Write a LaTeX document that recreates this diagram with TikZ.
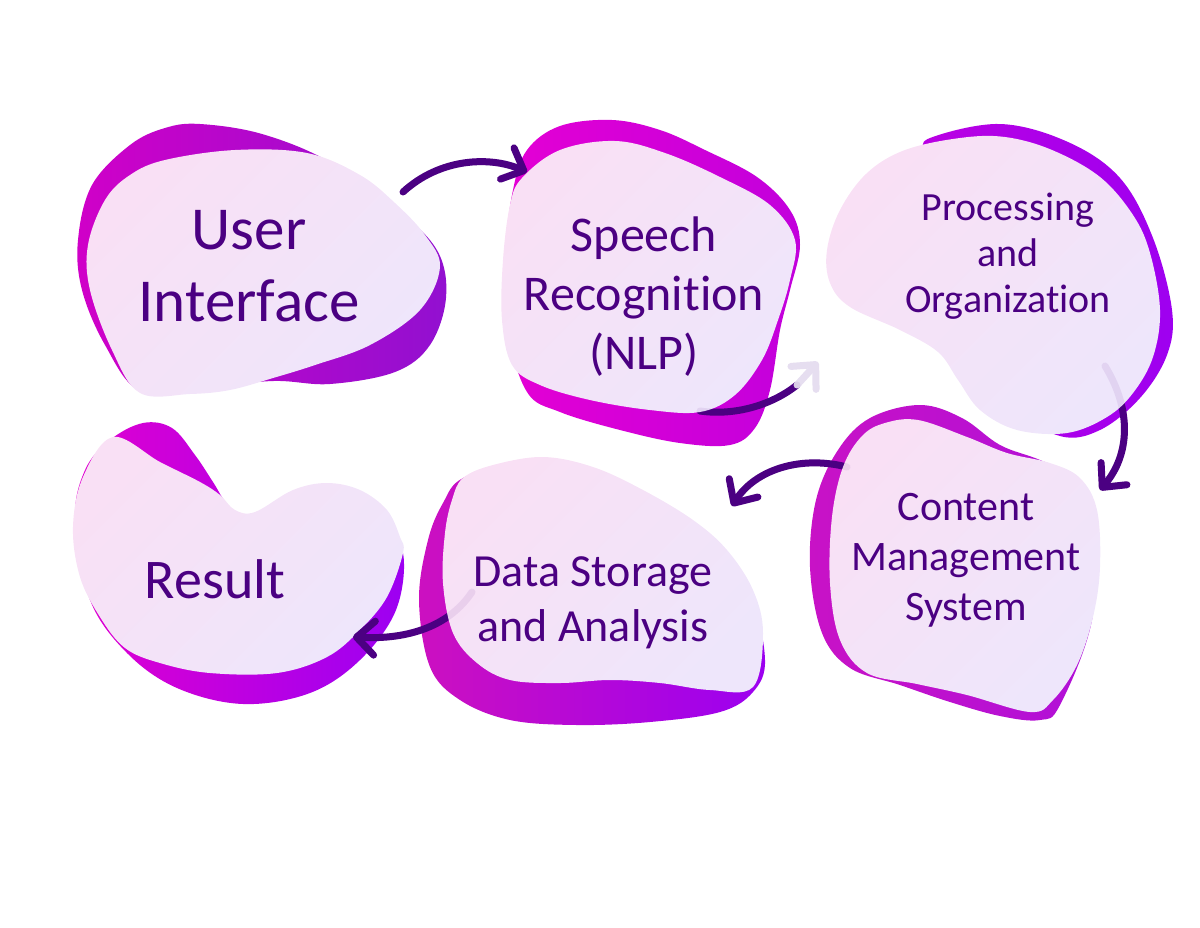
\documentclass[tikz,border=0pt]{standalone}
\usepackage{fontspec}
\setmainfont[Ligatures={NoCommon,NoRequired,NoContextual}]{Carlito}
\usetikzlibrary{arrows.meta}

\definecolor{ink}{HTML}{4B0082}
\definecolor{paleA}{HTML}{F9E0F5}
\definecolor{paleB}{HTML}{EEE6FB}
\definecolor{fadeline}{HTML}{E6DEF0}
\definecolor{uiL}{HTML}{D000C8}\definecolor{uiR}{HTML}{9210D0}
\definecolor{spL}{HTML}{E400D4}\definecolor{spR}{HTML}{C200DC}
\definecolor{prL}{HTML}{C000E0}\definecolor{prR}{HTML}{9E00F0}
\definecolor{cmL}{HTML}{C812C6}\definecolor{cmR}{HTML}{B010D8}
\definecolor{daL}{HTML}{CC10C0}\definecolor{daR}{HTML}{9C00F0}
\definecolor{reL}{HTML}{E000D0}\definecolor{reR}{HTML}{9C00F2}

\tikzset{
  blobtext/.style={text=ink, align=center},
  pale/.style={left color=paleA, right color=paleB, shading angle=45},
  backing/.style 2 args={left color=#1, right color=#2},
  flow/.style={draw=ink, line width=3.5pt, line cap=round,
    -{Straight Barb[length=9pt,width=17pt,round]}},
}

% all connectors, drawn twice (under and faintly over the pale blobs)
\newcommand{\flows}[1]{%
  \draw[flow,#1] (ui-out) .. controls (440,158) and (490,156) .. (speech-in);
  \draw[flow,-,#1] (speech-out) .. controls (735,416) and (772,405) .. (speech-mid);
  \draw[flow,draw=fadeline,#1] (speech-mid) -- (proc-in);
  \draw[flow,#1] (proc-out) .. controls (1132,410) and (1130,455) .. (cms-in);
  \draw[flow,#1] (cms-out) .. controls (800,455) and (755,470) .. (data-in);
  \draw[flow,#1] (data-out) .. controls (450,625) and (410,640) .. (result-in);
}

\begin{document}
\begin{tikzpicture}[x=0.5pt,y=-0.5pt]
\useasboundingbox (0,0) rectangle (1200,927);

% back shapes
\shade[backing={uiL}{uiR}] plot[smooth cycle,tension=0.6] coordinates {
  (200,124) (262,134) (330,162) (400,212) (438,252) (446,298) (430,345) (395,372) (330,384)
  (273,381) (200,388) (140,391) (105,345) (82,290) (78,240) (92,185) (130,145) (165,128)};
\shade[backing={spL}{spR}] plot[smooth cycle,tension=0.6] coordinates {
  (527,150) (560,126) (612,120) (660,130) (705,150) (757,177) (790,210) (800,245) (790,290)
  (780,330) (770,390) (755,428) (730,445) (680,443) (620,430) (560,412) (527,392) (508,330)
  (506,250) (513,190)};
\shade[backing={prL}{prR}] plot[smooth cycle,tension=0.6] coordinates {
  (930,138) (1000,124) (1068,142) (1120,178) (1153,238) (1172,310) (1167,355) (1140,398)
  (1100,430) (1060,436) (1010,405) (960,330) (900,280) (870,230) (890,185) (920,155)};
\shade[backing={cmL}{cmR}] plot[smooth cycle,tension=0.6] coordinates {
  (870,418) (920,405) (962,418) (1000,445) (1040,460) (1080,480) (1095,520) (1092,620)
  (1060,705) (1040,720) (1000,716) (950,702) (900,685) (850,668) (822,633) (810,567)
  (816,500) (838,450)};
\shade[backing={daL}{daR}] plot[smooth cycle,tension=0.6] coordinates {
  (463,478) (520,462) (600,478) (700,530) (750,600) (765,660) (753,692) (720,712) (650,722)
  (577,725) (510,720) (460,700) (430,667) (419,600) (428,540) (443,503)};
\shade[backing={reL}{reR}] plot[smooth cycle,tension=0.6] coordinates {
  (110,440) (143,423) (172,428) (195,455) (213,482) (228,505) (250,520) (300,510) (380,525)
  (403,553) (396,610) (360,660) (310,693) (243,704) (177,688) (127,653) (90,600) (75,520)
  (85,470)};

% result front shape sits under its arrow head
\shade[pale] plot[smooth cycle,tension=0.6] coordinates {
  (113,437) (160,462) (200,482) (220,495) (235,510) (255,512) (293,490) (327,483) (360,490)
  (387,510) (400,537) (403,553) (387,597) (360,630) (327,657) (277,673) (210,673) (160,663)
  (125,648) (100,617) (80,577) (73,527) (83,477)};

% arrow ends
\coordinate (ui-out) at (403,192);
\coordinate (speech-in) at (527,172);
\coordinate (speech-out) at (700,411);
\coordinate (speech-mid) at (797,385);
\coordinate (proc-in) at (818,362);
\coordinate (proc-out) at (1105,366);
\coordinate (cms-in) at (1100,490);
\coordinate (cms-out) at (847,467);
\coordinate (data-in) at (732,506);
\coordinate (data-out) at (472,592);
\coordinate (result-in) at (353,637);

\flows{}

% front shapes
\shade[pale] plot[smooth cycle,tension=0.6] coordinates {
  (165,160) (235,150) (307,153) (360,175) (395,203) (425,235) (440,267) (420,310) (370,345)
  (315,365) (273,378) (230,390) (190,394) (140,393) (112,350) (90,290) (88,245) (105,200)
  (130,175)};
\shade[pale] plot[smooth cycle,tension=0.6] coordinates {
  (522,178) (560,150) (615,141) (665,153) (720,177) (770,205) (795,240) (790,280) (778,320)
  (762,360) (735,395) (700,412) (650,410) (590,400) (540,385) (512,365) (502,320) (503,260)
  (510,205)};
\shade[pale] plot[smooth cycle,tension=0.6] coordinates {
  (960,138) (1005,137) (1052,150) (1100,177) (1133,215) (1150,253) (1160,310) (1153,357)
  (1133,393) (1107,417) (1067,433) (1017,430) (980,410) (958,380) (938,352) (900,330)
  (850,307) (830,283) (827,250) (840,210) (867,173) (905,150)};
\shade[pale] plot[smooth cycle,tension=0.6] coordinates {
  (862,436) (885,423) (918,420) (967,437) (1007,453) (1050,463) (1080,478) (1097,510)
  (1100,567) (1093,617) (1077,665) (1053,700) (1030,712) (967,695) (917,684) (867,673)
  (840,640) (830,583) (832,517) (843,467)};
\shade[pale] plot[smooth cycle,tension=0.6] coordinates {
  (463,478) (493,465) (543,457) (593,467) (643,490) (693,520) (727,550) (753,590) (763,633)
  (753,687) (710,690) (660,683) (610,680) (560,683) (510,680) (477,663) (453,633) (443,583)
  (445,533) (452,500)};

\flows{draw opacity=0.08}

% labels
\node[blobtext, font=\fontsize{30.5}{36}\selectfont] (ui) at (249,266) {User\\Interface};
\node[blobtext, font=\fontsize{25}{29.5}\selectfont] (speech) at (644,297) {Speech\\Recognition\\(NLP)};
\node[blobtext, font=\fontsize{20}{23}\selectfont] (proc) at (1008,256) {Processing\\and\\Organization};
\node[blobtext, font=\fontsize{21}{25}\selectfont] (cms) at (966,560) {Content\\Management\\System};
\node[blobtext, font=\fontsize{23}{27.5}\selectfont] (data) at (593,603) {Data Storage\\and Analysis};
\node[blobtext, font=\fontsize{28}{34}\selectfont] (result) at (215,579) {Result};
\end{tikzpicture}
\end{document}
